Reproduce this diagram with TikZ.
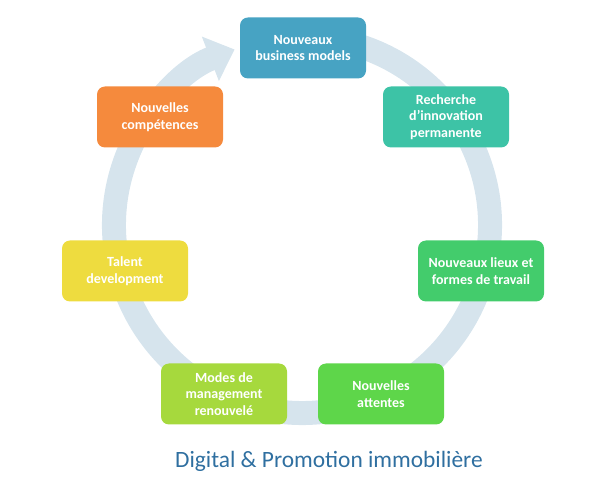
\documentclass[tikz,border=0pt]{standalone}
\usepackage{fontspec}
\setmainfont{Carlito}
\usetikzlibrary{arrows.meta}
\definecolor{ringc}{HTML}{D6E4ED}
\definecolor{cTop}{HTML}{47A3C3}
\definecolor{cRech}{HTML}{3DC3A6}
\definecolor{cLieux}{HTML}{43CC6C}
\definecolor{cAtt}{HTML}{5ED64A}
\definecolor{cModes}{HTML}{A6D93D}
\definecolor{cTalent}{HTML}{EEDC3F}
\definecolor{cComp}{HTML}{F58A3D}
\definecolor{titlec}{HTML}{2F6FA0}
\tikzset{
  box/.style={rectangle, rounded corners=8pt, minimum width=126pt, minimum height=61pt,
    text=white, align=center, inner sep=2pt, font=\fontsize{14}{16.5}\selectfont\bfseries},
  ring/.style={draw=ringc, line width=24pt},
}
\begin{document}
\begin{tikzpicture}[x=1pt,y=1pt]
\useasboundingbox (0,0) rectangle (600,482);
\coordinate (c) at (302,257);
\draw[ring, -{Triangle[width=46pt,length=26pt]}] (c) ++(75:188) arc[start angle=75, end angle=-249, radius=188];
\node[box, fill=cTop] (n1) at (303,434) {Nouveaux\\business models};
\node[box, fill=cRech] (n2) at (446,365) {Recherche\\d’innovation\\permanente};
\node[box, fill=cLieux] (n3) at (481,211) {Nouveaux lieux et\\formes de travail};
\node[box, fill=cAtt] (n4) at (381,88) {Nouvelles\\attentes};
\node[box, fill=cModes] (n5) at (224,88) {Modes de\\management\\renouvelé};
\node[box, fill=cTalent] (n6) at (125,211) {Talent\\development};
\node[box, fill=cComp] (n7) at (160,365) {Nouvelles\\compétences};
\node[anchor=base, text=titlec, font=\fontsize{23.4}{28}\selectfont, inner sep=0pt] (title) at (329,14) {Digital \& Promotion immobilière};
\end{tikzpicture}
\end{document}
